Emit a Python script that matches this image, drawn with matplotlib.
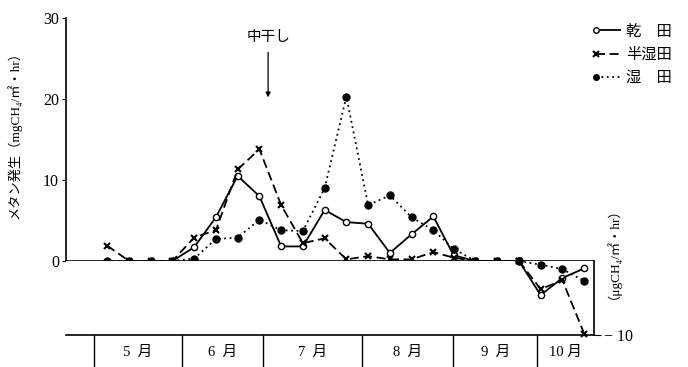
import matplotlib
matplotlib.use("Agg")
import matplotlib.pyplot as plt
from matplotlib.lines import Line2D
from matplotlib.legend_handler import HandlerBase

plt.rcParams['font.family'] = ['Liberation Serif', 'Noto Sans CJK JP', 'DejaVu Sans']

# sampling dates, days counted from 1 May
days = [4.5, 12, 19.5, 27, 34.5, 42, 49.5, 57, 64.5, 72, 79.5, 87, 94.5,
        102, 109.5, 117, 124, 131.5, 139, 146.5, 154, 161.5, 169]

# mgCH4/m2/hr above zero, ugCH4/m2/hr for the last three dates (below zero)
dry = [None, None, None, 0, 1.7, 5.4, 10.5, 8.0, 1.8, 1.8, 6.3, 4.8, 4.6,
       1.0, 3.3, 5.5, 0.7, 0, 0, 0, -4.6, -2.3, -1.0]
semi = [1.9, 0, 0, 0, 2.9, 3.8, 11.3, 13.8, 6.9, 2.2, 2.8, 0.2, 0.6,
        0.2, 0.2, 1.1, 0.4, 0, 0, 0, -3.8, -2.6, -9.8]
wet = [0, 0, 0, 0, 0.3, 2.7, 2.9, 5.1, 3.8, 3.7, 9.0, 20.3, 6.9,
       8.1, 5.4, 3.8, 1.5, 0, 0, 0, -0.5, -1.1, -2.7]

series_names = ['乾　田', '半湿田', '湿　田']
month_edges = [0, 30.3, 58.3, 92.4, 123.8, 152.8, 172.4]
month_labels = ['5  月', '6  月', '7  月', '8  月', '9  月', '10 月']
split = 19  # index of the last zero date before values go negative

W, H = 688, 367
fig = plt.figure(figsize=(W / 100, H / 100), dpi=100)
ax = fig.add_axes([66 / W, (H - 261) / H, (594 - 66) / W, (261 - 18) / H])
axb = fig.add_axes([66 / W, (H - 335) / H, (594 - 66) / W, (335 - 261) / H], sharex=ax)

styles = [
    dict(ls='-', marker='o', mfc='white', ms=4.5, mew=1.0),
    dict(ls=(0, (5, 2.5)), marker='x', mfc='black', ms=5, mew=1.5),
    dict(ls=(0, (1, 2)), marker='o', mfc='black', ms=5, mew=1.0),
]
handles = []
for vals, st, name in zip([dry, semi, wet], styles, series_names):
    xs = [d for d, v in zip(days, vals) if v is not None]
    ys = [v for v in vals if v is not None]
    off = len(days) - len(xs)
    k = split - off
    h, = ax.plot(xs[:k + 1], ys[:k + 1], color='black', lw=1.3, mec='black',
                 clip_on=False, zorder=3, label=name, **st)
    axb.plot(xs[k:], ys[k:], color='black', lw=1.3, mec='black',
             clip_on=False, zorder=3, **st)
    handles.append(h)

ax.set_xlim(-9.7, 172.4)
ax.set_ylim(0, 30)
ax.set_yticks([0, 10, 20, 30])
ax.tick_params(axis='y', direction='out', length=3, labelsize=11.5, pad=2)
ax.tick_params(axis='x', bottom=False, labelbottom=False)
for s in ['top', 'right']:
    ax.spines[s].set_visible(False)
for s in ax.spines.values():
    s.set_linewidth(1.2)

axb.set_ylim(-10, 0)
axb.yaxis.tick_right()
axb.set_yticks([-10])
axb.set_yticklabels(['− 10'])
axb.tick_params(axis='y', direction='out', length=5, labelsize=11.5, pad=2)
axb.tick_params(axis='x', bottom=False, labelbottom=False)
axb.spines['left'].set_visible(False)
axb.spines['top'].set_visible(False)
for s in axb.spines.values():
    s.set_linewidth(1.2)

# month table under the plot
tr = axb.get_xaxis_transform()
axb.vlines(month_edges[:-1], -0.45, 0, transform=tr, color='black', lw=1.0, clip_on=False)
for i, lab in enumerate(month_labels):
    cx = (month_edges[i] + month_edges[i + 1]) / 2
    axb.text(cx, -0.23, lab, transform=tr, ha='center', va='center', fontsize=10.5)

ax.annotate('中干し', xy=(60, 20.2), xytext=(60, 27.6), ha='center', va='center',
            fontsize=10.5,
            arrowprops=dict(arrowstyle='-|>', color='black', lw=0.9,
                            mutation_scale=7, shrinkA=4, shrinkB=0))

fig.text(14 / W, 1 - 132 / H, 'メタン発生（mgCH₄/㎡・hr）', rotation=90,
         ha='center', va='center', fontsize=9.5)
fig.text(606 / W, 1 - 247 / H, '（μgCH₄/㎡・hr）', rotation=90,
         ha='center', va='center', fontsize=9.5)


class LeftMarker(HandlerBase):
    def __init__(self, style):
        super().__init__()
        self.style = style

    def create_artists(self, legend, orig, xd, yd, w, h, fs, trans):
        y = h / 2 - yd
        ln = Line2D([-xd, w - xd], [y, y], color='black', lw=1.3,
                    ls=self.style['ls'])
        mk = Line2D([-xd], [y], marker=self.style['marker'], ms=4,
                    mfc=self.style['mfc'], mec='black',
                    mew=self.style['mew'], ls='none')
        ln.set_transform(trans)
        mk.set_transform(trans)
        return [ln, mk]


fig.legend(handles=handles, loc='upper left', bbox_to_anchor=(588 / W, 1 - 17 / H),
           frameon=False, fontsize=11, handlelength=1.6, handletextpad=0.4,
           labelspacing=0.6, borderpad=0,
           handler_map={h: LeftMarker(st) for h, st in zip(handles, styles)})

fig.savefig('out.png', dpi=100)
